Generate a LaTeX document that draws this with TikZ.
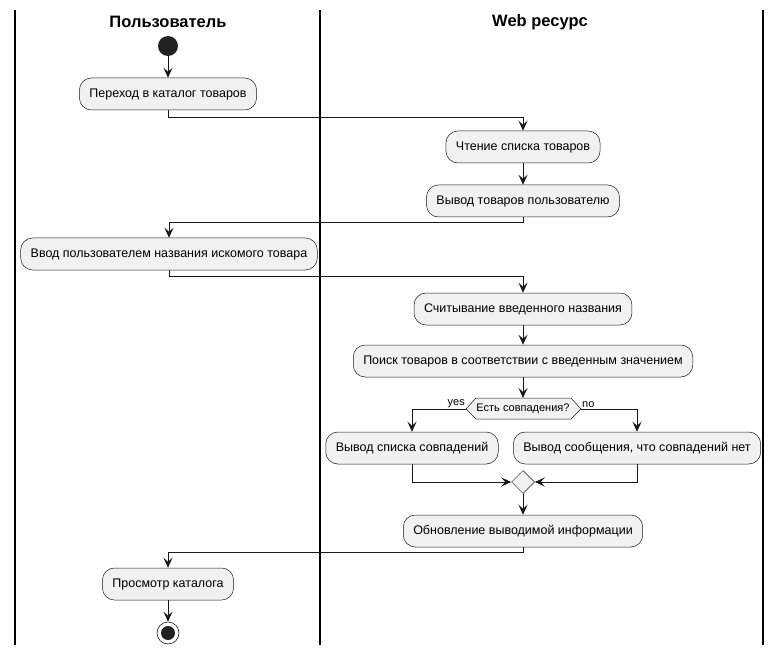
\documentclass[tikz,border=0pt]{standalone}
\usepackage{fontspec}
\setmainfont{Liberation Sans}
\usetikzlibrary{arrows.meta,shapes.geometric}
\definecolor{actfill}{HTML}{F1F1F1}
\definecolor{actline}{HTML}{181818}
\definecolor{dotfill}{HTML}{222222}
\tikzset{
	action/.style={draw=actline, fill=actfill, line width=0.5pt, rounded corners=12pt,
		minimum height=32pt, inner xsep=10pt, font=\fontsize{12.5}{14}\selectfont},
	flow/.style={draw=actline, line width=0.9pt, -{Stealth[length=10pt,width=9pt,inset=4pt]}},
	lane/.style={line width=1.2pt},
	lanetitle/.style={font=\fontsize{16.5}{20}\selectfont\bfseries},
	guard/.style={font=\fontsize{11}{12}\selectfont, inner sep=1pt},
}
\begin{document}
\begin{tikzpicture}[x=1pt,y=-1pt]
	\useasboundingbox (0,0) rectangle (779,655);

	% swimlanes
	\draw[lane] (15,10) -- (15,645);
	\draw[lane] (320,10) -- (320,645);
	\draw[lane] (763,10) -- (763,645);
	\node[lanetitle] (userlane) at (168,22) {Пользователь};
	\node[lanetitle] (weblane) at (540,22) {Web ресурс};

	% start
	\node[circle, fill=dotfill, inner sep=0, minimum size=20pt] (start) at (168,46) {};

	% actions
	\node[action] (catalog) at (168,94) {Переход в каталог товаров};
	\node[action] (readlist) at (523,147) {Чтение списка товаров};
	\node[action] (showgoods) at (523,201) {Вывод товаров пользователю};
	\node[action] (entername) at (169,254) {Ввод пользователем названия искомого товара};
	\node[action] (readname) at (523,309) {Считывание введенного названия};
	\node[action] (search) at (523,361) {Поиск товаров в соответствии с введенным значением};

	% decision
	\coordinate (match) at (523,409);
	\coordinate (hl) at (466,409);
	\coordinate (hr) at (581,409);
	\draw[draw=actline, fill=actfill, line width=0.5pt] (hl) -- (476,398) -- (571,398) -- (hr)
		-- (571,419) -- (476,419) -- cycle;
	\node[font=\fontsize{11}{13}\selectfont, inner sep=0] (matchtext) at (match) {Есть совпадения?};
	\node[guard, anchor=south east] (yes) at (hl) {yes};
	\node[guard, anchor=south west] (no) at (hr) {no};

	\node[action] (found) at (412,448) {Вывод списка совпадений};
	\node[action] (notfound) at (637,448) {Вывод сообщения, что совпадений нет};

	% merge
	\node[diamond, draw=actline, fill=actfill, line width=0.5pt, inner sep=0, minimum size=23pt] (merge) at (523,482) {};

	\node[action] (update) at (523,531) {Обновление выводимой информации};
	\node[action] (view) at (168,584) {Просмотр каталога};

	% end
	\node[circle, draw=actline, fill=white, line width=0.6pt, inner sep=0, minimum size=22pt] (stop) at (168,633) {};
	\node[circle, fill=dotfill, inner sep=0, minimum size=14pt] (stopdot) at (stop) {};

	% flows
	\draw[flow] (start) -- (catalog);
	\draw[flow] (catalog.south) -- ++(0,7) -| (readlist.north);
	\draw[flow] (readlist) -- (showgoods);
	\draw[flow] (showgoods.south) -- ++(0,5) -| (entername.north);
	\draw[flow] (entername.south) -- ++(0,6) -| (readname.north);
	\draw[flow] (readname) -- (search);
	\draw[flow] (search.south) -- (523,398);
	\draw[flow] (hl) -| (found.north);
	\draw[flow] (hr) -| (notfound.north);
	\draw[flow] (found.south) |- (merge.west);
	\draw[flow] (notfound.south) |- (merge.east);
	\draw[flow] (merge.south) -- (update.north);
	\draw[flow] (update.south) -- ++(0,5) -| (view.north);
	\draw[flow] (view.south) -- (stop.north);

\end{tikzpicture}
\end{document}
